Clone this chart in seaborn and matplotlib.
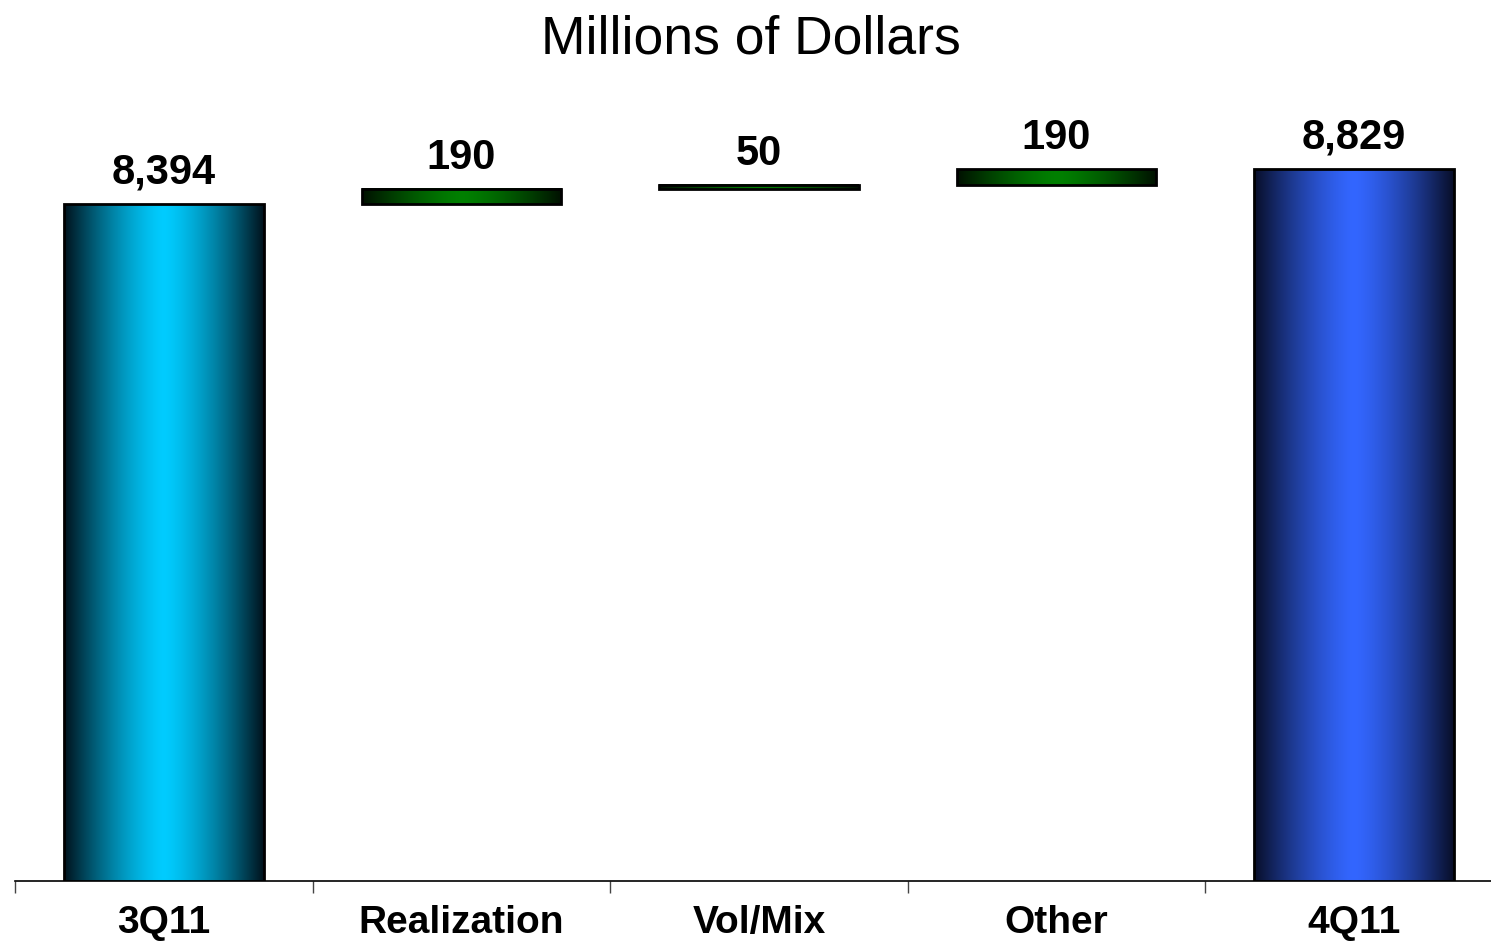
import numpy as np
import matplotlib
matplotlib.use("Agg")
import matplotlib.pyplot as plt
import seaborn as sns

# ---- data ----
categories = ["3Q11", "Realization", "Vol/Mix", "Other", "4Q11"]
values = [8394, 190, 50, 190, 8829]
value_labels = ["8,394", "190", "50", "190", "8,829"]
is_total = [True, False, False, False, True]
title = "Millions of Dollars"

# ---- style ----
sns.set_theme(style="white")
plt.rcParams["font.family"] = ["Liberation Sans", "DejaVu Sans"]
plt.rcParams["text.color"] = "black"
plt.rcParams["xtick.color"] = "black"
plt.rcParams["xtick.labelcolor"] = "black"

W, H, DPI = 1491, 941, 100
fig = plt.figure(figsize=(W / DPI, H / DPI), dpi=DPI)

# axes placement (pixels)
x_left = 15.25
x_right = 1502.75
y_base = 881
y_top = 100
ax = fig.add_axes([x_left / W, (H - y_base) / H, (x_right - x_left) / W, (y_base - y_top) / H])

# waterfall bottoms / tops
bottoms, tops = [], []
running = 0
for v, tot in zip(values, is_total):
    if tot:
        bottoms.append(0)
        tops.append(v)
        running = v
    else:
        bottoms.append(running)
        running += v
        tops.append(running)

centers = {"3Q11": (0, 204, 255), "Realization": (0, 128, 0), "Vol/Mix": (0, 128, 0),
           "Other": (0, 128, 0), "4Q11": (51, 102, 255)}
edges = {"3Q11": (0, 18, 28), "Realization": (0, 16, 0), "Vol/Mix": (0, 16, 0),
         "Other": (0, 16, 0), "4Q11": (8, 14, 40)}
palette = {k: tuple(c / 255 for c in v) for k, v in centers.items()}

sns.barplot(x=categories, y=tops, hue=categories, palette=palette, legend=False,
            width=0.67, ax=ax, saturation=1, order=categories, hue_order=categories)

px_per_unit = 712 / 8829.0
ylim_top = (y_base - y_top) / px_per_unit

for i, patch in enumerate(ax.patches):
    cat = categories[i]
    patch.set_y(bottoms[i])
    patch.set_height(tops[i] - bottoms[i])
    patch.set_facecolor("none")
    patch.set_edgecolor("black")
    patch.set_linewidth(2.0)
    patch.set_zorder(4)
    x0 = patch.get_x()
    x1 = x0 + patch.get_width()
    # horizontal gradient: dark edges, light centre
    t = np.linspace(-1, 1, 256)
    f = 1 - np.abs(t) ** 1.4
    c = np.array(centers[cat]) / 255.0
    e = np.array(edges[cat]) / 255.0
    img = (e[None, :] + f[:, None] * (c - e)[None, :])[None, :, :]
    ax.imshow(img, extent=(x0, x1, bottoms[i], tops[i]), aspect="auto",
              zorder=3, interpolation="bilinear")
    ax.annotate(value_labels[i], xy=(i, tops[i]), xytext=(0, 14.5),
                textcoords="offset points", ha="center", va="baseline",
                fontsize=30, fontweight="bold", color="black")

ax.set_xlim(-0.5, 4.5)
ax.set_ylim(0, ylim_top)

# spines
for s in ["left", "top", "right"]:
    ax.spines[s].set_visible(False)
ax.spines["bottom"].set_color("black")
ax.spines["bottom"].set_linewidth(1.2)
ax.spines["bottom"].set_zorder(2)

# ticks: marks at boundaries, labels at centres
ax.set_yticks([])
ax.set_xticks(np.arange(-0.5, 4.6, 1.0))
ax.set_xticklabels([""] * 6)
ax.set_xticks(np.arange(len(categories)), minor=True)
ax.set_xticklabels(categories, minor=True, fontsize=28, fontweight="bold", color="black")
ax.tick_params(axis="x", which="major", direction="out", length=8.5, width=1.0,
               color="#444444", bottom=True)
ax.tick_params(axis="x", which="minor", length=0, pad=17)
ax.set_xlabel("")
ax.set_ylabel("")
ax.grid(False)
ax.set_facecolor("white")

fig.text(751 / W, (H - 54) / H, title, ha="center", va="baseline",
         fontsize=38.5, color="black")

fig.savefig("out.png", dpi=DPI, facecolor="white")
